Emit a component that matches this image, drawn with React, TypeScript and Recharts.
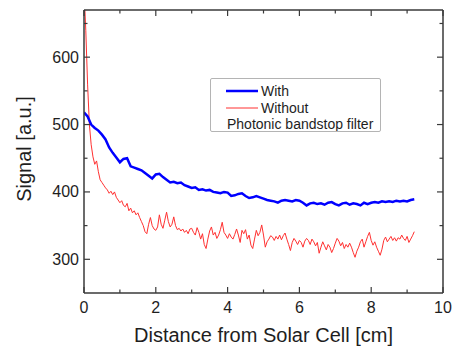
import React from 'react';
import { LineChart, Line, XAxis, YAxis, Legend } from 'recharts';

// Distance grid steps (cm)
const withStep = 0.1;
const withoutStep = 0.05;

// "With" photonic bandstop filter (blue), sampled every 0.1 cm from 0 to 9.2
const withSignal = [
  518, 512, 500, 495, 491, 485, 478, 466, 458, 451,
  444, 449, 450, 438, 436, 434, 432, 428, 424, 420,
  426, 427, 422, 418, 414, 415, 413, 414, 410, 408,
  406, 407, 403, 404, 402, 403, 400, 399, 398, 400,
  399, 394, 395, 397, 398, 394, 391, 392, 394, 392,
  390, 388, 387, 386, 384, 387, 388, 387, 386, 388,
  387, 384, 380, 383, 384, 382, 383, 381, 384, 385,
  382, 380, 383, 384, 381, 383, 382, 380, 384, 382,
  384, 385, 384, 386, 385, 386, 385, 387, 386, 387,
  386, 388, 389,
];

// "Without" filter (red), sampled every 0.05 cm from 0 to 9.2
const withoutSignal = [
  700, 640, 560, 500, 470, 452, 441, 446, 430, 418, 414, 410, 406, 403, 398, 401, 396, 400, 392, 388,
  384, 387, 380, 378, 383, 372, 376, 369, 372, 366, 369, 362, 356, 350, 341, 338, 352, 362, 350, 345,
  343, 348, 366, 352, 346, 358, 370, 356, 348, 352, 363, 350, 344, 346, 342, 345, 340, 343, 338, 345,
  346, 340, 336, 347, 340, 330, 338, 322, 316, 330, 342, 348, 336, 340, 331, 336, 344, 355, 340, 336,
  331, 338, 333, 330, 337, 345, 336, 325, 343, 338, 344, 330, 336, 321, 316, 330, 343, 335, 340, 351,
  336, 318, 326, 330, 335, 333, 328, 334, 330, 336, 329, 335, 339, 330, 322, 313, 325, 331, 327, 322,
  328, 325, 318, 327, 331, 328, 322, 330, 326, 320, 325, 309, 318, 326, 320, 314, 322, 318, 310, 316,
  324, 331, 327, 320, 325, 316, 322, 318, 324, 318, 310, 303, 312, 318, 326, 330, 318, 326, 334, 340,
  328, 321, 326, 318, 312, 306, 315, 328, 333, 326, 330, 334, 328, 332, 327, 332, 330, 336, 331, 328,
  334, 325, 330, 335, 341,
];

const xTicks = [0, 1, 2, 3, 4, 5, 6, 7, 8, 9, 10];
const xLabelTicks = [0, 2, 4, 6, 8, 10];
const yTicks = [300, 350, 400, 450, 500, 550, 600, 650];
const yLabelTicks = [300, 400, 500, 600];

const seriesNames = ['With', 'Without'];
const legendNote = 'Photonic bandstop filter';
const xTitle = 'Distance from Solar Cell [cm]';
const yTitle = 'Signal [a.u.]';

const withData = withSignal.map((v, i) => ({ x: +(i * withStep).toFixed(2), v }));
const withoutData = withoutSignal.map((v, i) => ({ x: +(i * withoutStep).toFixed(2), v }));

const FONT = '"Liberation Sans", Arial, sans-serif';
const AXIS = '#3a3a3a';
const TEXT = '#1e1e1e';
const BLUE = '#0000ff';
const RED = '#ff3030';

const BottomTick = (props: any) => {
  const { x, y, payload } = props;
  const v = payload.value;
  const major = xLabelTicks.includes(v);
  return (
    <g>
      <line x1={x} x2={x} y1={y} y2={y - (major ? 6 : 3.5)} stroke={AXIS} strokeWidth={1.2} />
      {major && (
        <text x={x} y={y + 20} textAnchor="middle" fontSize={16} fontFamily={FONT} fill={TEXT}>
          {v}
        </text>
      )}
    </g>
  );
};

const TopTick = (props: any) => {
  const { x, y, payload } = props;
  const major = xLabelTicks.includes(payload.value);
  return <line x1={x} x2={x} y1={y} y2={y + (major ? 6 : 3.5)} stroke={AXIS} strokeWidth={1.2} />;
};

const LeftTick = (props: any) => {
  const { x, y, payload } = props;
  const v = payload.value;
  const major = yLabelTicks.includes(v);
  return (
    <g>
      <line x1={x} x2={x + (major ? 6 : 3.5)} y1={y} y2={y} stroke={AXIS} strokeWidth={1.2} />
      {major && (
        <text x={x - 5} y={y + 5.5} textAnchor="end" fontSize={16} fontFamily={FONT} fill={TEXT}>
          {v}
        </text>
      )}
    </g>
  );
};

const RightTick = (props: any) => {
  const { x, y, payload } = props;
  const major = yLabelTicks.includes(payload.value);
  return <line x1={x} x2={x - (major ? 6 : 3.5)} y1={y} y2={y} stroke={AXIS} strokeWidth={1.2} />;
};

const LegendBox = () => (
  <div
    style={{
      width: 171,
      height: 54,
      boxSizing: 'border-box',
      border: '1px solid #b4b4b4',
      borderRadius: 2,
      background: '#fff',
      fontFamily: FONT,
      color: TEXT,
    }}
  >
    <svg width={169} height={52} style={{ display: 'block' }}>
      <line x1={15} x2={47} y1={12} y2={12} stroke={BLUE} strokeWidth={2.5} />
      <text x={50} y={17} fontSize={14} fontFamily={FONT} fill={TEXT}>{seriesNames[0]}</text>
      <line x1={15} x2={47} y1={29} y2={29} stroke={RED} strokeWidth={1} />
      <text x={50} y={34} fontSize={14} fontFamily={FONT} fill={TEXT}>{seriesNames[1]}</text>
      <text x={16} y={50} fontSize={14} fontFamily={FONT} fill={TEXT}>{legendNote}</text>
    </svg>
  </div>
);

export default function App() {
  return (
    <div style={{ position: 'absolute', left: 0, top: 0, width: 454, height: 346, background: '#fff' }}>
      <LineChart width={454} height={346} margin={{ top: 9, right: 0, bottom: 0, left: 0 }}>
        <XAxis
          xAxisId="bottom"
          type="number"
          dataKey="x"
          domain={[0, 10]}
          ticks={xTicks}
          interval={0}
          allowDataOverflow
          height={53}
          tickSize={0}
          tickMargin={0}
          tickLine={false}
          axisLine={{ stroke: AXIS, strokeWidth: 1.5 }}
          tick={<BottomTick />}
          label={(p: any) => {
            const vb = p.viewBox;
            return (
              <text x={vb.x + vb.width / 2} y={342} textAnchor="middle" fontSize={20} fontFamily={FONT} fill={TEXT}>
                {xTitle}
              </text>
            );
          }}
        />
        <XAxis
          xAxisId="top"
          orientation="top"
          type="number"
          dataKey="x"
          domain={[0, 10]}
          ticks={xTicks}
          interval={0}
          allowDataOverflow
          height={1}
          tickSize={0}
          tickMargin={0}
          tickLine={false}
          axisLine={{ stroke: AXIS, strokeWidth: 1.5 }}
          tick={<TopTick />}
        />
        <YAxis
          yAxisId="left"
          type="number"
          domain={[250, 670]}
          ticks={yTicks}
          interval={0}
          allowDataOverflow
          width={84}
          tickSize={0}
          tickMargin={0}
          tickLine={false}
          axisLine={{ stroke: AXIS, strokeWidth: 1.5 }}
          tick={<LeftTick />}
          label={() => (
            <text
              x={24}
              y={149}
              textAnchor="middle"
              dominantBaseline="central"
              transform="rotate(-90, 24, 149)"
              fontSize={20}
              fontFamily={FONT}
              fill={TEXT}
            >
              {yTitle}
            </text>
          )}
        />
        <YAxis
          yAxisId="right"
          orientation="right"
          type="number"
          domain={[250, 670]}
          ticks={yTicks}
          interval={0}
          allowDataOverflow
          width={11}
          tickSize={0}
          tickMargin={0}
          tickLine={false}
          axisLine={{ stroke: AXIS, strokeWidth: 1.5 }}
          tick={<RightTick />}
        />
        <Legend
          layout="horizontal"
          verticalAlign="middle"
          align="center"
          content={() => <LegendBox />}
          wrapperStyle={{ position: 'absolute', left: 210, top: 78, width: 171, height: 54 }}
        />
        <Line
          name={seriesNames[1]}
          data={withoutData}
          dataKey="v"
          xAxisId="bottom"
          yAxisId="left"
          type="linear"
          stroke={RED}
          strokeWidth={1}
          dot={false}
          activeDot={false}
          isAnimationActive={false}
        />
        <Line
          name={seriesNames[0]}
          data={withData}
          dataKey="v"
          xAxisId="bottom"
          yAxisId="left"
          type="linear"
          stroke={BLUE}
          strokeWidth={2.5}
          dot={false}
          activeDot={false}
          isAnimationActive={false}
        />
      </LineChart>
    </div>
  );
}
